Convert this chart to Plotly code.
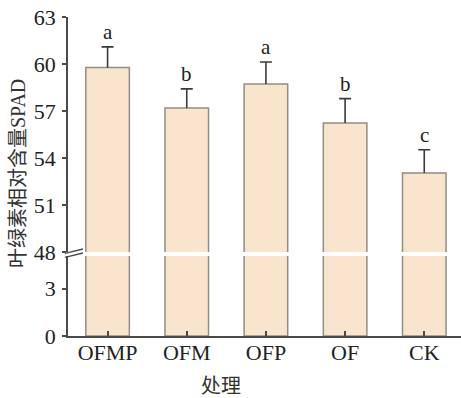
import plotly.graph_objects as go

categories = ["OFMP", "OFM", "OFP", "OF", "CK"]
spad = [59.77, 57.19, 58.73, 56.23, 53.05]
spad_err = [1.32, 1.22, 1.40, 1.56, 1.48]
letters = ["a", "b", "a", "b", "c"]
low_ticks = [0, 3]
high_ticks = [48, 51, 54, 57, 60, 63]

W, H = 461, 398
L, R, T, B = 68, 0, 17, 398 - 336
pw, ph = W - L - R, H - T - B


def px(xp, yp):
    """page pixel -> paper coords"""
    return (xp - L) / pw, (H - B - yp) / ph


top_bottom_px = 252
low_top_px = 256
dom_top = [px(0, top_bottom_px)[1], 1.0]
dom_low = [0.0, px(0, low_top_px)[1]]
low_max = 3 * (336 - low_top_px) / 47.5

fill = "#F9E5CE"
edge = "#958c84"
axc = "#4a4a4a"
serif = "Liberation Serif, Times New Roman, serif"
cjk = "Liberation Serif, Noto Sans CJK SC, serif"

fig = go.Figure()
fig.add_trace(go.Bar(x=categories, y=spad, yaxis="y", xaxis="x",
                     marker=dict(color=fill, line=dict(color=edge, width=1.5)),
                     showlegend=False, hoverinfo="skip"))
fig.add_trace(go.Bar(x=categories, y=spad, yaxis="y2", xaxis="x",
                     marker=dict(color=fill, line=dict(color=edge, width=1.5)),
                     error_y=dict(type="data", array=spad_err, arrayminus=[0] * len(spad_err),
                                  symmetric=False, color="#3a3a3a", thickness=1.6, width=0),
                     showlegend=False))
# caps at the top of the error bars
fig.add_trace(go.Scatter(x=categories, y=[v + e for v, e in zip(spad, spad_err)],
                         yaxis="y2", xaxis="x", mode="markers",
                         marker=dict(size=1, opacity=0),
                         error_y=dict(type="data", array=[0] * len(spad), symmetric=True,
                                      color="#3a3a3a", thickness=1.6, width=6),
                         showlegend=False, hoverinfo="skip"))

for c, v, e, t in zip(categories, spad, spad_err, letters):
    fig.add_annotation(x=c, y=v + e, xref="x", yref="y2", text=t, showarrow=False,
                       yanchor="bottom", yshift=1,
                       font=dict(family=serif, size=21, color="#222"))

ax, ay = px(18, 174)
fig.add_annotation(x=ax, y=ay, xref="paper", yref="paper", xanchor="center", yanchor="middle",
                   text="叶绿素相对含量SPAD", showarrow=False, textangle=-90,
                   font=dict(family=cjk, size=20, color="#333"))
bx, by = px(221, 386)
fig.add_annotation(x=bx, y=by, xref="paper", yref="paper", xanchor="center", yanchor="middle",
                   text="处理", showarrow=False,
                   font=dict(family=cjk, size=20, color="#333"))

# break marks
for yy in (253.3, 257.3):
    x0, y0 = px(65, yy)
    x1, y1 = px(83, yy - 4.3)
    fig.add_shape(type="line", xref="paper", yref="paper", x0=x0, x1=x1, y0=y0, y1=y1,
                  line=dict(color=axc, width=1.3))

tickf = dict(family=serif, size=22, color="#222")
fig.update_layout(
    width=W, height=H, margin=dict(l=L, r=R, t=T, b=B, pad=0),
    paper_bgcolor="white", plot_bgcolor="white",
    bargap=0.45,
    xaxis=dict(anchor="y", range=[-0.5, 4.464], showline=True, linecolor=axc, linewidth=1.5,
               ticks="inside", ticklen=5, tickwidth=1.5, tickcolor=axc,
               tickfont=tickf, showgrid=False, zeroline=False, ticklabelstandoff=-4),
    yaxis=dict(domain=dom_low, range=[0, low_max], tickvals=low_ticks, showline=True,
               linecolor=axc, linewidth=1.5, ticks="outside", ticklen=4, tickwidth=1.5,
               tickcolor=axc, tickfont=tickf, showgrid=False, zeroline=False,
               ticklabelstandoff=2),
    yaxis2=dict(domain=dom_top, range=[48, 63], tickvals=high_ticks, anchor="x",
                showline=True, linecolor=axc, linewidth=1.5, ticks="outside", ticklen=4,
                tickwidth=1.5, tickcolor=axc, tickfont=tickf,
                showgrid=False, zeroline=False, ticklabelstandoff=2),
)

fig.write_html("out.html", config={"displayModeBar": False},
               post_script="document.body.style.margin='0';")
